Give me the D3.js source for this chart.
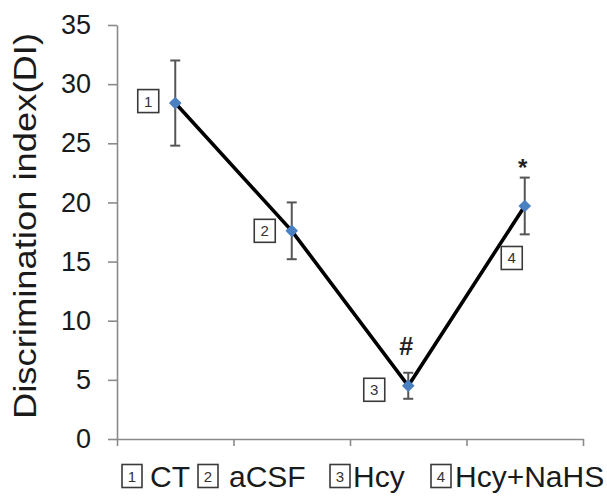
<!DOCTYPE html>
<html>
<head>
<meta charset="utf-8">
<script src="https://cdn.jsdelivr.net/npm/d3@7"></script>
<style>
  html, body { margin: 0; padding: 0; background: #fff; }
  svg { display: block; font-family: "Liberation Sans", Arial, sans-serif; }
</style>
</head>
<body>
<svg id="chart" width="607" height="500"></svg>
<script>
// ---- data ----
const categories = ["CT", "aCSF", "Hcy", "Hcy+NaHS"];
const groupNumbers = ["1", "2", "3", "4"];
const meanDI = [28.4, 17.6, 4.5, 19.7];
const errDI = [3.6, 2.4, 1.1, 2.4];
const significance = ["", "", "#", "*"];
const yTicks = [0, 5, 10, 15, 20, 25, 30, 35];

// ---- layout ----
const plotLeft = 117, plotRight = 583, plotTop = 25, plotBottom = 439;
const svg = d3.select("#chart");

const x = d3.scaleBand().domain(categories).range([plotLeft, plotRight]).padding(0);
const xEdge = d3.scaleLinear().domain([0, categories.length]).range([plotLeft, plotRight]);
const y = d3.scaleLinear().domain([0, 35]).range([plotBottom, plotTop]);

const axisColor = "#8a8a8a";

// y axis
const gy = svg.append("g").attr("transform", `translate(${plotLeft},0)`)
  .call(d3.axisLeft(y).tickValues(yTicks).tickSize(9).tickSizeOuter(0).tickPadding(17));
gy.select(".domain").attr("stroke", axisColor).attr("stroke-width", 1.6);
gy.selectAll(".tick line").attr("stroke", axisColor).attr("stroke-width", 1.6);
gy.selectAll(".tick text").attr("font-size", 27).attr("fill", "#1a1a1a")
  .attr("font-family", "Liberation Sans, Arial, sans-serif");

// x axis (ticks at category boundaries)
const gx = svg.append("g").attr("transform", `translate(0,${plotBottom})`)
  .call(d3.axisBottom(xEdge).tickValues(d3.range(0, categories.length + 1)).tickSize(7).tickSizeOuter(0).tickFormat(""));
gx.select(".domain").attr("stroke", axisColor).attr("stroke-width", 1.6);
gx.selectAll(".tick line").attr("stroke", axisColor).attr("stroke-width", 1.6);

// y title
svg.append("text")
  .attr("transform", `translate(36,226) rotate(-90)`)
  .attr("text-anchor", "middle")
  .attr("font-size", 31)
  .attr("fill", "#1a1a1a")
  .attr("textLength", 386)
  .attr("lengthAdjust", "spacingAndGlyphs")
  .text("Discrimination index(DI)");

const data = categories.map((c, i) => ({c, i, m: meanDI[i], e: errDI[i], s: significance[i], n: groupNumbers[i]}));
const cx = d => x(d.c) + x.bandwidth() / 2;

// error bars
const eb = svg.append("g").attr("stroke", "#555").attr("stroke-width", 2).attr("fill", "none");
data.forEach(d => {
  const px = cx(d);
  eb.append("line").attr("x1", px).attr("x2", px).attr("y1", y(d.m + d.e)).attr("y2", y(d.m - d.e));
  eb.append("line").attr("x1", px - 5).attr("x2", px + 5).attr("y1", y(d.m + d.e)).attr("y2", y(d.m + d.e));
  eb.append("line").attr("x1", px - 5).attr("x2", px + 5).attr("y1", y(d.m - d.e)).attr("y2", y(d.m - d.e));
});

// line
svg.append("path").datum(data)
  .attr("fill", "none").attr("stroke", "#000").attr("stroke-width", 3.6)
  .attr("stroke-linejoin", "miter")
  .attr("d", d3.line().x(cx).y(d => y(d.m)));

// markers
svg.append("g").selectAll("path").data(data).join("path")
  .attr("transform", d => `translate(${cx(d)},${y(d.m)}) rotate(45)`)
  .attr("d", d3.symbol(d3.symbolSquare, 80))
  .attr("fill", "#4a7fc1");

// numbered boxes near points (offsets relative to point)
const boxOffsets = [[-27, -2], [-27, 0], [-34, 4], [-13, 52]];
function numBox(g, cxp, cyp, n, w, h, fs) {
  g.append("rect").attr("x", cxp - w / 2).attr("y", cyp - h / 2).attr("width", w).attr("height", h)
    .attr("fill", "#fff").attr("stroke", "#3a3a3a").attr("stroke-width", 1.6);
  g.append("text").attr("x", cxp).attr("y", cyp).attr("text-anchor", "middle")
    .attr("dominant-baseline", "central").attr("font-size", fs).attr("fill", "#333").text(n);
}
const nb = svg.append("g");
data.forEach((d, i) => numBox(nb, cx(d) + boxOffsets[i][0], y(d.m) + boxOffsets[i][1], d.n, 21, 23, 15));

// significance marks
const sigOffsets = {"#": 18, "*": 2};
svg.append("g").selectAll("text").data(data.filter(d => d.s)).join("text")
  .attr("x", d => cx(d) - 2)
  .attr("y", d => y(d.m + d.e) - sigOffsets[d.s])
  .attr("text-anchor", "middle")
  .attr("font-size", d => d.s === "#" ? 25 : 24)
  .attr("font-weight", "bold")
  .attr("fill", "#222")
  .text(d => d.s);

// x category labels: boxed number + name
const boxLeft = [122, 198, 330, 431];
const textLeft = [150, 229, 353, 455];
const lab = svg.append("g");
data.forEach((d, i) => {
  numBox(lab, boxLeft[i] + 10, 476, d.n, 20, 23, 15);
  lab.append("text").attr("x", textLeft[i]).attr("y", 487)
    .attr("font-size", 30).attr("fill", "#1a1a1a").text(d.c);
});
</script>
</body>
</html>
